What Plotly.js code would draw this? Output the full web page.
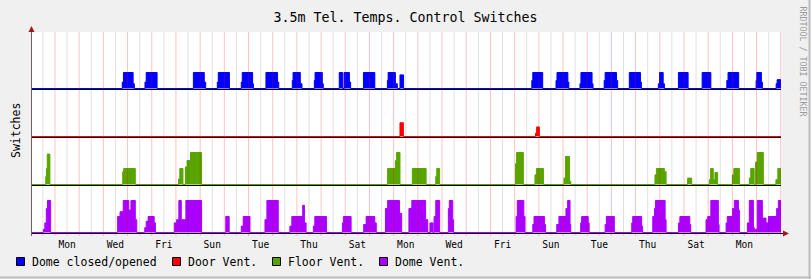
<!DOCTYPE html>
<html>
<head>
<meta charset="utf-8">
<script src="https://cdn.plot.ly/plotly-3.0.1.min.js"></script>
<style>html,body{margin:0;padding:0;background:#F0F0F0;}#chart{width:811px;height:279px;}</style>
</head>
<body>
<div id="chart"></div>
<script>
// ---------- DATA (time in days, 0 = Monday 00:00 of first week) ----------
const startDay = -0.95;
const endDay = 30.01;
const tickDays = [0.5, 2.5, 4.5, 6.5, 8.5, 10.5, 12.5, 14.5, 16.5, 18.5, 20.5, 22.5, 24.5, 26.5, 28.5];
const tickLabels = ['Mon','Wed','Fri','Sun','Tue','Thu','Sat','Mon','Wed','Fri','Sun','Tue','Thu','Sat','Mon'];
const seriesNames = ['Dome closed/opened', 'Door Vent.', 'Floor Vent.', 'Dome Vent.'];

// [time, value] step points
const domeSteps = [[-0.95,0],[2.78,0.4],[2.83,1],[3.23,0.3],[3.28,0],[3.72,0.4],[3.77,1],[4.22,0],
  [5.72,1],[6.17,0.4],[6.23,0],[6.71,0.4],[6.75,1],[7.21,0],[7.70,0.4],[7.74,1],[8.17,0.3],[8.20,0],
  [8.72,1],[9.20,0.4],[9.25,0],[9.81,0.5],[9.84,1],[10.14,0.3],[10.21,0],[10.72,0.5],[10.75,1],[11.05,0.3],[11.09,0],
  [11.75,1],[11.89,0],[11.95,1],[12.17,0.4],[12.22,0],[12.75,1],[13.22,0],[13.74,0.5],[13.77,1],[14.07,0.3],[14.15,0],
  [14.26,0.85],[14.41,0],[19.71,0.5],[19.75,1],[20.16,0],[20.71,0.5],[20.75,1],[21.20,0.4],[21.24,0],
  [21.70,0.3],[21.74,1],[22.20,0.3],[22.24,0],[22.70,0.5],[22.74,1],[23.21,0.5],[23.26,0],[23.74,1],[24.20,0.4],[24.24,0],
  [24.94,0.3],[24.99,1],[25.14,0.3],[25.19,0],[25.77,1],[26.17,0],[26.75,1],[27.11,0],[27.77,0.5],[27.82,1],[28.26,0],
  [28.98,0.5],[29.01,1],[29.20,0.4],[29.24,0],[29.81,0.3],[29.85,0.55],[30.01,0.55]];

const doorSteps = [[-0.95,0],[14.26,0.86],[14.40,0],[19.86,0.2],[19.91,0.6],[20.02,0],[30.01,0]];

const floorSteps = [[-0.95,0],[-0.38,0.5],[-0.35,1.0],[-0.32,1.9],[-0.21,0],
  [2.80,0.8],[2.84,1.0],[3.32,0],[5.11,0.35],[5.16,1.0],[5.29,0],
  [5.39,1.1],[5.46,1.5],[5.60,2.0],[6.06,0],[13.75,1.0],[14.07,1.5],[14.12,2.0],[14.26,0],
  [14.77,1.0],[15.34,0],[15.74,0.5],[15.78,1.0],[15.90,0],[19.04,1.3],[19.08,2.0],[19.36,0],
  [19.84,0.6],[19.90,1.0],[20.19,0],[21.04,0.4],[21.10,1.75],[21.27,0.2],[21.32,0],
  [24.80,0.6],[24.86,1.0],[25.19,0.8],[25.26,0],[26.15,0.4],[26.32,0],
  [27.05,0.3],[27.10,1.0],[27.21,0.3],[27.28,0.75],[27.39,0],[28.00,0.6],[28.06,1.0],[28.29,0],
  [28.70,0.4],[28.76,1.0],[28.90,0],[28.96,1.4],[29.03,2.0],[29.28,0],[29.80,0.3],[29.88,1.0],[30.01,1.0]];

const ventSteps = [[-0.95,0],[-0.48,0.2],[-0.42,0.6],[-0.36,1.5],[-0.31,2.0],[-0.18,0],
  [2.59,1.0],[2.69,1.3],[2.82,2.0],[3.05,1.4],[3.14,2.0],[3.32,0.8],[3.38,0],
  [3.71,0.3],[3.77,0.7],[3.85,1.0],[4.10,0.6],[4.15,0],
  [4.93,0.6],[5.03,0.8],[5.12,2.0],[5.22,0.8],[5.41,2.0],[6.06,0],
  [7.06,1.0],[7.20,0],[7.70,0.4],[7.78,1.0],[8.06,0],[8.68,0.8],[8.76,2.0],[9.23,0],
  [9.71,0.4],[9.79,1.0],[10.24,1.7],[10.31,0.6],[10.38,0],[10.68,0.4],[10.74,1.0],[11.22,0],
  [11.88,0.6],[11.92,1.0],[12.24,0],[12.76,0.5],[12.86,1.0],[13.22,0.6],[13.28,0],
  [13.66,1.5],[13.75,2.0],[14.24,1.2],[14.33,0],[14.63,1.5],[14.75,2.0],[15.32,0.8],[15.41,0],
  [15.50,0.6],[15.63,0],[15.67,1.0],[15.74,2.0],[15.90,0],[16.26,1.5],[16.30,2.0],[16.44,0.8],[16.47,0],
  [19.06,1.0],[19.11,2.0],[19.38,1.0],[19.43,0],[19.75,0.5],[19.80,1.0],[20.23,0.5],[20.28,0],
  [20.74,0.5],[20.83,1.0],[21.12,1.5],[21.19,2.0],[21.29,0.5],[21.32,0],
  [21.73,0.6],[21.77,1.0],[22.04,0.6],[22.08,0],[22.74,0.5],[22.79,1.0],[23.12,0],
  [23.84,0.6],[23.88,1.0],[24.25,0.4],[24.29,0],[24.71,1.0],[24.78,1.5],[24.82,2.0],[25.22,0.8],[25.26,0],
  [25.77,0.6],[25.83,1.0],[26.24,0.5],[26.28,0],[26.91,0.8],[26.98,1.0],[27.11,2.0],[27.42,0.5],[27.45,0],
  [27.74,0.6],[27.79,1.0],[28.01,1.5],[28.08,2.0],[28.25,1.4],[28.29,0],
  [28.62,0.6],[28.70,2.0],[28.87,0.3],[28.91,0.2],[29.03,2.0],[29.24,0.9],[29.39,0.6],[29.49,1.0],[29.83,1.5],[29.90,2.0],[30.01,2.0]];

// ---------- STYLE / LAYOUT ----------
const colors = ['#0000FF', '#FF0000', '#58A500', '#AA00FF'];
const bandBase = [9, 6, 3, 0];      // rule level of each band (units of 16 px)
const lift = 0.5/16;                // series zero line sits just above its rule
const ruleDrop = 0.5/16;            // rule sits half a pixel below the band level (crisp 1px line)
const allSteps = [domeSteps, doorSteps, floorSteps, ventSteps];
const MONO = 'DejaVu Sans Mono, monospace';

const PL = 32, PT = 32, PW = 749, PH = 201;
const px = x => (x - PL) / PW;
const py = y => (PT + PH - y) / PH;

const traces = [];
allSteps.forEach((steps, i) => {
  const o = bandBase[i] + lift;
  traces.push({x: [startDay, endDay], y: [o, o], mode: 'lines', line: {width: 0, color: colors[i]},
    hoverinfo: 'skip', showlegend: false});
  traces.push({x: steps.map(p => p[0]), y: steps.map(p => p[1] + o), mode: 'lines', name: seriesNames[i],
    line: {shape: 'hv', width: 1, color: colors[i]}, fill: 'tonexty', fillcolor: colors[i], showlegend: false});
});

const shapes = [];
// grid (drawn over the data, like rrdtool)
for (let k = Math.ceil(startDay * 2); k <= Math.floor(endDay * 2); k++) {
  const d = k / 2;
  const major = (k % 2 === 0);
  shapes.push({type: 'line', xref: 'x', yref: 'paper', x0: d, x1: d, y0: py(236), y1: 1, layer: 'above',
    line: {color: major ? 'rgba(235,0,0,0.24)' : 'rgba(0,0,0,0.12)', width: 1}});
}
// band rules
[9, 6, 3].forEach(b => shapes.push({type: 'line', xref: 'paper', yref: 'y', x0: 0, x1: 1,
  y0: b - ruleDrop, y1: b - ruleDrop, layer: 'above', line: {color: '#000000', width: 1}}));
// axes
shapes.push({type: 'line', xref: 'paper', yref: 'paper', x0: px(31.5), x1: px(785), y0: py(233.5), y1: py(233.5),
  layer: 'above', line: {color: '#000000', width: 1}});
shapes.push({type: 'line', xref: 'paper', yref: 'paper', x0: px(31.5), x1: px(31.5), y0: py(236), y1: py(29),
  layer: 'above', line: {color: '#6A5E5E', width: 1}});
// arrows
shapes.push({type: 'path', xref: 'paper', yref: 'paper', layer: 'above', fillcolor: '#A01818', line: {width: 0},
  path: `M ${px(28.5)},${py(32)} L ${px(34.5)},${py(32)} L ${px(31.5)},${py(26)} Z`});
shapes.push({type: 'path', xref: 'paper', yref: 'paper', layer: 'above', fillcolor: '#A01818', line: {width: 0},
  path: `M ${px(783)},${py(230.5)} L ${px(783)},${py(236.5)} L ${px(789)},${py(233.5)} Z`});
// frame
shapes.push({type: 'line', xref: 'paper', yref: 'paper', x0: px(0), x1: px(811), y0: py(277.5), y1: py(277.5),
  line: {color: '#BDBDBD', width: 2}});
shapes.push({type: 'line', xref: 'paper', yref: 'paper', x0: px(809.5), x1: px(809.5), y0: py(0), y1: py(279),
  line: {color: '#BDBDBD', width: 2}});

// manual legend
const legendBoxX = [16, 172, 272, 379];
const annotations = [];
seriesNames.forEach((name, i) => {
  const bx = legendBoxX[i];
  shapes.push({type: 'rect', xref: 'paper', yref: 'paper', x0: px(bx + 0.5), x1: px(bx + 8.5), y0: py(265.5), y1: py(257.5),
    fillcolor: colors[i], line: {color: '#000000', width: 1}});
  annotations.push({text: name, xref: 'paper', yref: 'paper', x: px(bx + 14), y: py(261.5), xanchor: 'left',
    yanchor: 'middle', showarrow: false, font: {family: MONO, size: 11.5, color: '#000'}});
});
annotations.push({text: 'Switches', xref: 'paper', yref: 'paper', x: px(16), y: py(131), textangle: -90,
  xanchor: 'center', yanchor: 'middle', showarrow: false, font: {family: MONO, size: 11.5, color: '#000'}});
annotations.push({text: 'RRDTOOL / TOBI OETIKER', xref: 'paper', yref: 'paper', x: px(802.5), y: py(62), textangle: 90,
  xanchor: 'center', yanchor: 'middle', showarrow: false, font: {family: MONO, size: 8.3, color: '#9A9A9A'}});

const layout = {
  width: 811, height: 279,
  margin: {l: PL, r: 811 - PL - PW, t: PT, b: 279 - PT - PH, pad: 0},
  paper_bgcolor: '#F0F0F0', plot_bgcolor: '#FFFFFF',
  showlegend: false,
  title: {text: '3.5m Tel. Temps. Control Switches', x: 0.5, xref: 'container', xanchor: 'center',
    y: 1 - 17 / 279, yref: 'container', yanchor: 'middle', font: {family: MONO, size: 13.3, color: '#000'}},
  xaxis: {range: [startDay, endDay], tickmode: 'array', tickvals: tickDays, ticktext: tickLabels,
    showgrid: false, zeroline: false, showline: false, ticks: 'outside', ticklen: 2, tickcolor: 'rgba(0,0,0,0)',
    tickfont: {family: MONO, size: 9.6, color: '#000'}, fixedrange: true},
  yaxis: {range: [0, PH / 16], showgrid: false, zeroline: false, showline: false, showticklabels: false,
    ticks: '', fixedrange: true},
  shapes: shapes,
  annotations: annotations
};

Plotly.newPlot('chart', traces, layout, {staticPlot: true, displayModeBar: false});
</script>
</body>
</html>
